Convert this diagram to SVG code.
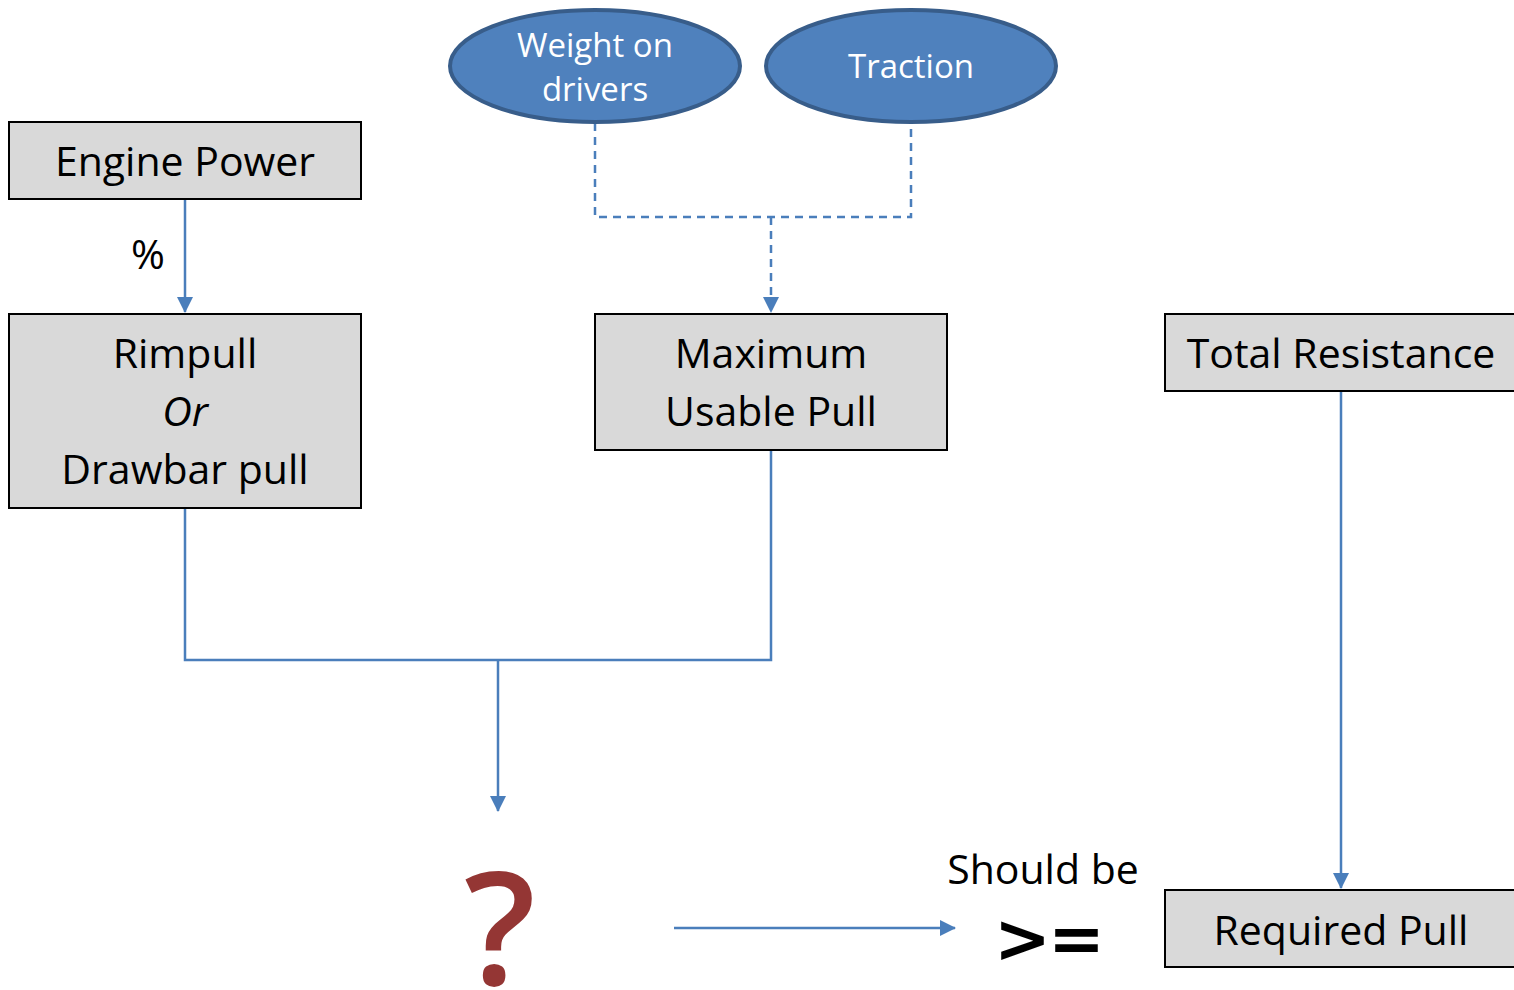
<svg xmlns="http://www.w3.org/2000/svg" width="1514" height="990" viewBox="0 0 1514 990">
<style>
.box{fill:#d9d9d9;stroke:#000;stroke-width:2}
.ell{fill:#4f81bd;stroke:#385d8a;stroke-width:4}
.t{font-family:"Open Sans","Noto Sans",sans-serif;font-size:41px;fill:#000;text-anchor:middle}
.w{font-family:"Open Sans","Noto Sans",sans-serif;font-size:33px;fill:#fff;text-anchor:middle}
.c{fill:none;stroke:#4a7ebb;stroke-width:2.5}
.d{stroke-dasharray:8 6}
</style>
<defs>
<marker id="ah2" markerWidth="16" markerHeight="16" refX="15" refY="8" orient="auto" markerUnits="userSpaceOnUse"><path d="M0,0 L16,8 L0,16 z" fill="#4a7ebb"/></marker>
</defs>
<g id="connectors">
<path class="c" d="M185,199 V312" marker-end="url(#ah2)"/>
<path class="c d" d="M595,123 V217 H911 V123"/>
<path class="c d" d="M771,217 V312" marker-end="url(#ah2)"/>
<path class="c" d="M185,508 V660 H771 V450"/>
<path class="c" d="M498,660 V811" marker-end="url(#ah2)"/>
<path class="c" d="M1341,391 V888" marker-end="url(#ah2)"/>
<path class="c" d="M674,928 H955" marker-end="url(#ah2)"/>
</g>
<text class="t" x="148" y="269">%</text>
<g id="engine-power"><rect class="box" x="9" y="122" width="352" height="77"/><text class="t" x="185" y="176">Engine Power</text></g>
<g id="rimpull"><rect class="box" x="9" y="314" width="352" height="194"/><text class="t" x="185" y="368">Rimpull</text><text class="t" x="185" y="426" font-style="italic">Or</text><text class="t" x="185" y="484">Drawbar pull</text></g>
<g id="max-usable-pull"><rect class="box" x="595" y="314" width="352" height="136"/><text class="t" x="771" y="368">Maximum</text><text class="t" x="771" y="426">Usable Pull</text></g>
<g id="total-resistance"><rect class="box" x="1165" y="314" width="355" height="77"/><text class="t" x="1341" y="368">Total Resistance</text></g>
<g id="required-pull"><rect class="box" x="1165" y="890" width="355" height="77"/><text class="t" x="1341" y="945">Required Pull</text></g>
<g id="weight-on-drivers"><ellipse class="ell" cx="595" cy="66" rx="145" ry="56"/><text class="w" x="595" y="57">Weight on</text><text class="w" x="595" y="101">drivers</text></g>
<g id="traction"><ellipse class="ell" cx="911" cy="66" rx="145" ry="56"/><text class="w" x="911" y="78">Traction</text></g>
<g id="question"><text x="500" y="985" font-family="'Open Sans','Noto Sans',sans-serif" font-size="158" fill="#943634" text-anchor="middle" font-weight="600">?</text></g>
<g id="should-be"><text class="t" x="1043" y="884">Should be</text><text x="1048" y="962" font-family="'DejaVu Sans',sans-serif" font-size="68" fill="#000" text-anchor="middle" font-weight="bold" letter-spacing="-3">&gt;=</text></g>
</svg>
